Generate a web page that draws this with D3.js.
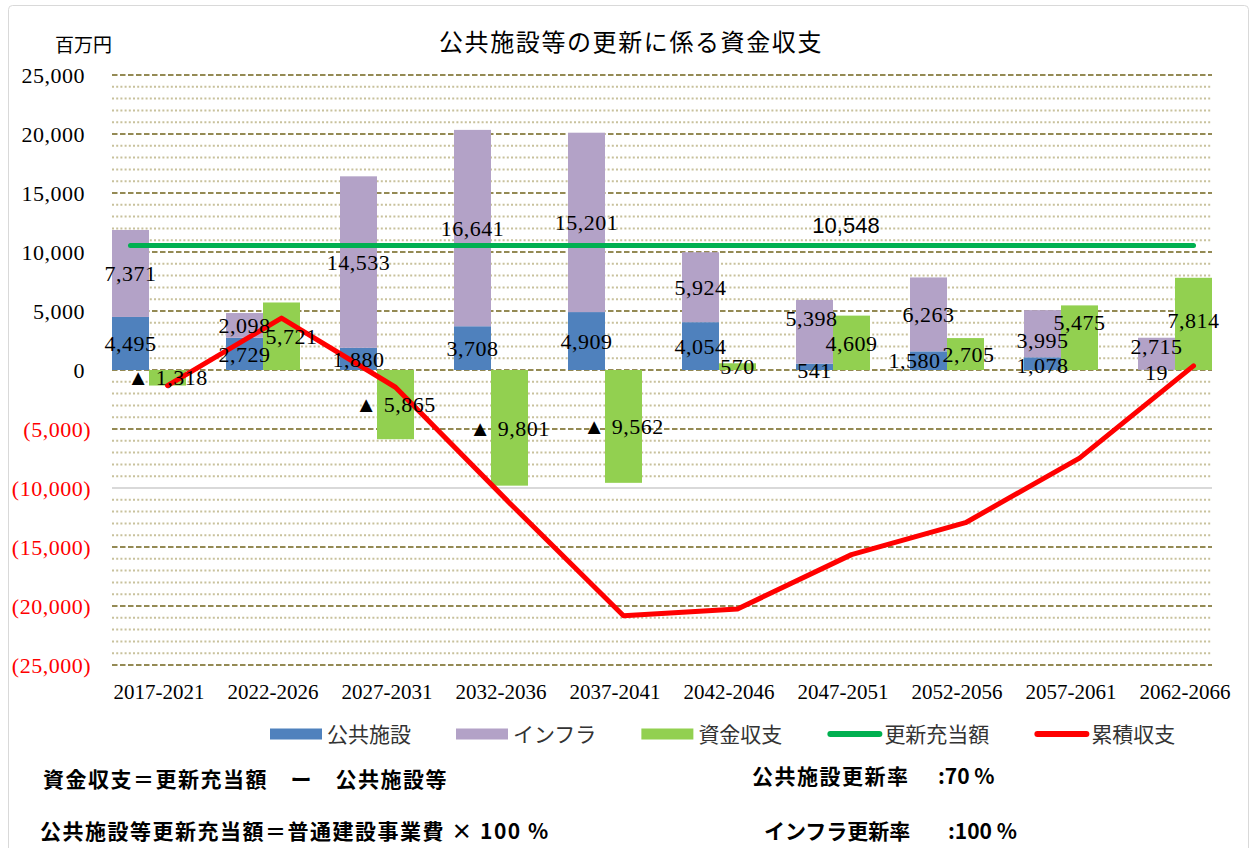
<!DOCTYPE html>
<html lang="ja">
<head>
<meta charset="utf-8">
<script src="https://cdn.jsdelivr.net/npm/d3@7/dist/d3.min.js"></script>
<style>
  html, body { margin: 0; padding: 0; background: #fff; }
  svg { display: block; }
</style>
</head>
<body>
<div id="chart"></div>
<script>
/*-------------------------------------------------------*/
/*------------------------ Data -------------------------*/
/*-------------------------------------------------------*/
const periods = ["2017-2021", "2022-2026", "2027-2031", "2032-2036", "2037-2041",
                 "2042-2046", "2047-2051", "2052-2056", "2057-2061", "2062-2066"];
const publicFacilities = [4495, 2729, 1880, 3708, 4909, 4054, 541, 1580, 1078, 19];
const infrastructure = [7371, 2098, 14533, 16641, 15201, 5924, 5398, 6263, 3995, 2715];
const cashBalance = [-1318, 5721, -5865, -9801, -9562, 570, 4609, 2705, 5475, 7814];
const cumulativeBalance = [-1318, 4403, -1462, -11263, -20825, -20255, -15646, -12941, -7466, 348];
const renewalBudget = 10548;
const yTicks = [25000, 20000, 15000, 10000, 5000, 0, -5000, -10000, -15000, -20000, -25000];

const legendItems = [
    { name: "公共施設", kind: "bar", color: "#4f81bd" },
    { name: "インフラ", kind: "bar", color: "#b3a2c7" },
    { name: "資金収支", kind: "bar", color: "#92d050" },
    { name: "更新充当額", kind: "line", color: "#00b050" },
    { name: "累積収支", kind: "line", color: "#ff0000" }
];

// hand-placed labels in the original (series:index -> shift)
const labelNudge = {
    "green:1": [10, 0], "green:7": [3, 0], "green:8": [0, -15], "green:9": [0, -4],
    "public:6": [0, 3], "public:7": [-14, 0], "public:8": [0, 2], "public:9": [0, 2],
    "infra:6": [-3, -13], "infra:8": [0, 7], "infra:9": [0, -7]
};

/*-------------------------------------------------------*/
/*------------------------ Setup ------------------------*/
/*-------------------------------------------------------*/
const width = 1257, height = 848;
const serif = "'Liberation Serif', 'Times New Roman', serif";
const jp = "'Noto Sans CJK JP', 'Noto Sans', sans-serif";

const svg = d3.select("#chart").append("svg")
    .attr("width", width)
    .attr("height", height);

svg.append("rect")
    .attr("x", 8.5).attr("y", 5.5)
    .attr("width", 1240).attr("height", 900)
    .attr("rx", 4)
    .attr("fill", "#fff")
    .attr("stroke", "#d9d9d9");

const x = d3.scaleBand().domain(periods).range([92, 1232]);
const y = d3.scaleLinear().domain([-25000, 25000]).range([665, 75]);

const barW = 37;
const leftX = p => x(p) + 20;          // stacked bar
const rightX = p => x(p) + 20 + barW;  // 資金収支 bar
const gridX0 = leftX(periods[0]);
const gridX1 = rightX(periods[periods.length - 1]) + barW;

/*-------------------------------------------------------*/
/*---------------------- Gridlines ----------------------*/
/*-------------------------------------------------------*/
const grid = svg.append("g");
grid.selectAll("line.minor")
    .data(y.ticks(50).filter(v => v % 5000 !== 0))
    .join("line")
    .attr("x1", gridX0).attr("x2", gridX1)
    .attr("y1", d => y(d)).attr("y2", d => y(d))
    .attr("stroke", "#c8c19c")
    .attr("stroke-width", 2)
    .attr("stroke-dasharray", "2,2.2");

grid.selectAll("line.major")
    .data(yTicks)
    .join("line")
    .attr("x1", gridX0).attr("x2", gridX1)
    .attr("y1", d => y(d)).attr("y2", d => y(d))
    .attr("stroke", d => d === -10000 ? "#d9d9d9" : "#948a54")
    .attr("stroke-width", 2)
    .attr("stroke-dasharray", d => d === -10000 ? null : "5.5,2.5");

/*-------------------------------------------------------*/
/*------------------------ Axes -------------------------*/
/*-------------------------------------------------------*/
const fmt = d3.format(",");
svg.append("g").selectAll("text")
    .data(yTicks)
    .join("text")
    .attr("x", d => d < 0 ? 91 : 85)
    .attr("y", d => y(d))
    .attr("dy", "0.35em")
    .attr("text-anchor", "end")
    .attr("font-family", serif)
    .attr("font-size", 22)
    .attr("letter-spacing", 0.5)
    .attr("fill", d => d < 0 ? "#ff0000" : "#000")
    .text(d => d < 0 ? `(${fmt(-d)})` : fmt(d));

svg.append("g").selectAll("text")
    .data(periods)
    .join("text")
    .attr("x", d => x(d) + x.bandwidth() / 2 + 10)
    .attr("y", 692)
    .attr("dy", "0.35em")
    .attr("text-anchor", "middle")
    .attr("font-family", serif)
    .attr("font-size", 21)
    .attr("fill", "#000")
    .text(d => d);

svg.append("text")
    .attr("x", 55).attr("y", 45)
    .attr("dy", "0.35em")
    .attr("font-family", jp)
    .attr("font-size", 19)
    .text("百万円");

svg.append("text")
    .attr("x", 631).attr("y", 42)
    .attr("dy", "0.36em")
    .attr("text-anchor", "middle")
    .attr("font-family", jp)
    .attr("font-size", 24)
    .attr("letter-spacing", 1.6)
    .text("公共施設等の更新に係る資金収支");

/*-------------------------------------------------------*/
/*------------------------ Bars -------------------------*/
/*-------------------------------------------------------*/
const rows = periods.map((p, i) => ({ period: p, public: publicFacilities[i], infra: infrastructure[i] }));
const stacked = d3.stack().keys(["public", "infra"])(rows);
const stackColor = { public: "#4f81bd", infra: "#b3a2c7" };

svg.append("g").selectAll("g")
    .data(stacked)
    .join("g")
    .attr("fill", s => stackColor[s.key])
    .selectAll("rect")
    .data(s => s)
    .join("rect")
    .attr("x", d => leftX(d.data.period))
    .attr("width", barW)
    .attr("y", d => y(d[1]))
    .attr("height", d => y(d[0]) - y(d[1]));

svg.append("g").selectAll("rect")
    .data(cashBalance)
    .join("rect")
    .attr("x", (d, i) => rightX(periods[i]))
    .attr("width", barW)
    .attr("y", d => y(Math.max(0, d)))
    .attr("height", d => Math.abs(y(d) - y(0)))
    .attr("fill", "#92d050");

/*-------------------------------------------------------*/
/*------------------------ Lines ------------------------*/
/*-------------------------------------------------------*/
svg.append("line")
    .attr("x1", leftX(periods[0]) + barW / 2)
    .attr("x2", rightX(periods[periods.length - 1]) + barW / 2)
    .attr("y1", y(renewalBudget)).attr("y2", y(renewalBudget))
    .attr("stroke", "#00b050")
    .attr("stroke-width", 5)
    .attr("stroke-linecap", "round");

const redLine = d3.line()
    .x((d, i) => rightX(periods[i]) + barW / 2)
    .y(d => y(d));

svg.append("path")
    .attr("d", redLine(cumulativeBalance))
    .attr("fill", "none")
    .attr("stroke", "#ff0000")
    .attr("stroke-width", 5)
    .attr("stroke-linejoin", "round")
    .attr("stroke-linecap", "round");

/*-------------------------------------------------------*/
/*----------------------- Labels ------------------------*/
/*-------------------------------------------------------*/
const labels = [];
stacked.forEach(s => s.forEach((d, i) => labels.push({
    key: `${s.key}:${i}`,
    cx: leftX(d.data.period) + barW / 2,
    cy: (y(d[0]) + y(d[1])) / 2,
    text: fmt(d[1] - d[0])
})));
cashBalance.forEach((v, i) => labels.push({
    key: `green:${i}`,
    cx: rightX(periods[i]) + barW / 2,
    cy: (y(0) + y(v)) / 2,
    text: v < 0 ? "▲ " + fmt(-v) : fmt(v)
}));

svg.append("g").selectAll("text")
    .data(labels)
    .join("text")
    .attr("x", d => d.cx + (labelNudge[d.key] || [0, 0])[0])
    .attr("y", d => d.cy + (labelNudge[d.key] || [0, 0])[1])
    .attr("dy", "0.35em")
    .attr("text-anchor", "middle")
    .attr("font-family", serif)
    .attr("font-size", 22)
    .attr("letter-spacing", 0.5)
    .attr("fill", "#000")
    .text(d => d.text);

svg.append("text")
    .attr("x", 846).attr("y", 225)
    .attr("dy", "0.35em")
    .attr("text-anchor", "middle")
    .attr("font-family", "'Liberation Sans', Arial, sans-serif")
    .attr("font-size", 22)
    .text(fmt(renewalBudget));

/*-------------------------------------------------------*/
/*----------------------- Legend ------------------------*/
/*-------------------------------------------------------*/
let lx = 270;
const legendY = 734;
legendItems.forEach(item => {
    if (item.kind === "bar") {
        svg.append("rect")
            .attr("x", lx).attr("y", legendY - 5.5)
            .attr("width", 52).attr("height", 11)
            .attr("fill", item.color);
    } else {
        svg.append("line")
            .attr("x1", lx + 3).attr("x2", lx + 52)
            .attr("y1", legendY).attr("y2", legendY)
            .attr("stroke", item.color)
            .attr("stroke-width", 6)
            .attr("stroke-linecap", "round");
    }
    const t = svg.append("text")
        .attr("x", lx + 57).attr("y", legendY)
        .attr("dy", "0.36em")
        .attr("font-family", jp)
        .attr("font-size", 21)
        .attr("fill", "#333")
        .text(item.name);
    lx += 57 + t.node().getComputedTextLength() + 45;
});

/*-------------------------------------------------------*/
/*-------------------- Footnote text --------------------*/
/*-------------------------------------------------------*/
const notes = [
    { x: 43, y: 779, ls: 1.5, text: "資金収支＝更新充当額　ー　公共施設等" },
    { x: 40, y: 831, ls: 1.5, text: "公共施設等更新充当額＝普通建設事業費 × 100 %" },
    { x: 752, y: 776, ls: 1.5, text: "公共施設更新率" },
    { x: 938, y: 776, ls: 0, text: ":70 %" },
    { x: 764, y: 831, ls: 0, text: "インフラ更新率" },
    { x: 948, y: 831, ls: 0, text: ":100 %" }
];
svg.append("g").selectAll("text")
    .data(notes)
    .join("text")
    .attr("x", d => d.x).attr("y", d => d.y)
    .attr("dy", "0.36em")
    .attr("font-family", jp)
    .attr("font-size", 21)
    .attr("font-weight", "bold")
    .attr("letter-spacing", d => d.ls)
    .attr("fill", "#000")
    .text(d => d.text);
</script>
</body>
</html>
